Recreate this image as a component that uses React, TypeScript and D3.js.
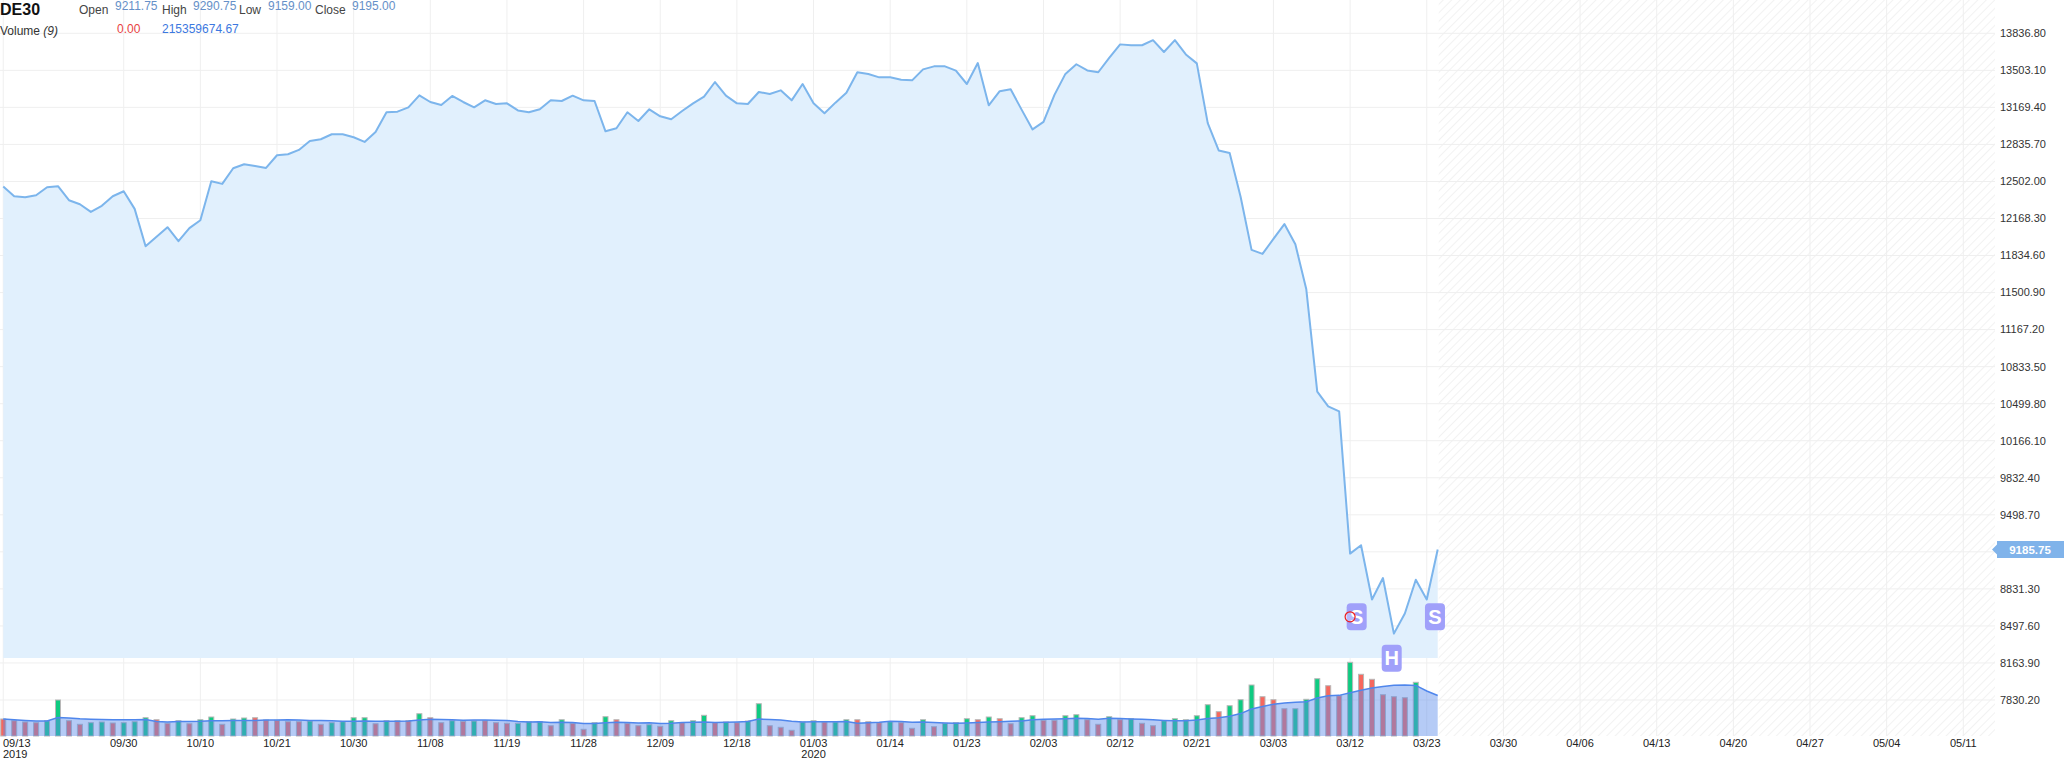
import React, { useEffect } from "react";
import * as d3 from "d3";

// DE30 daily closes, 2019-09-13 .. 2020-03-24
const closes = [
  12456, 12369, 12360, 12378, 12450, 12459, 12333, 12297, 12228, 12282,
  12369, 12414, 12255, 11918, 12003, 12090, 11964, 12081, 12152, 12504,
  12480, 12621, 12657, 12642, 12624, 12738, 12747, 12786, 12867, 12882,
  12927, 12927, 12900, 12858, 12948, 13125, 13131, 13170, 13278, 13218,
  13191, 13272, 13218, 13170, 13233, 13200, 13206, 13142, 13125, 13152,
  13233, 13227, 13275, 13233, 13227, 12954, 12981, 13125, 13047, 13152,
  13089, 13062, 13137, 13206, 13266, 13398, 13275, 13206, 13200, 13308,
  13290, 13323, 13233, 13380, 13206, 13116, 13212, 13302, 13485, 13470,
  13440, 13440, 13419, 13413, 13512, 13539, 13539, 13500, 13380, 13569,
  13188, 13315, 13332, 13149, 12971, 13039, 13282, 13471, 13558, 13502,
  13486, 13615, 13737, 13729, 13729, 13775, 13668, 13775, 13646, 13566,
  13028, 12781, 12759, 12364, 11886, 11849, 11985, 12118, 11936, 11530,
  10609, 10476, 10430, 9149, 9225, 8736, 8929, 8428, 8610, 8914,
  8736, 9185.75,
];

// volume in millions
const volumes = [
  90.4, 81.4, 74.5, 70.8, 81.4, 191.5, 81.4, 62.2, 70.8, 74.5,
  69.2, 70.8, 76.1, 97.4, 86.7, 67.6, 81.4, 65.4, 86.7, 101.1,
  62.2, 90.4, 95.8, 97.4, 85.1, 83.5, 76.1, 76.1, 79.8, 62.2,
  70.8, 76.1, 97.4, 97.4, 65.4, 81.4, 81.4, 81.4, 118.6, 97.4,
  70.8, 81.4, 78.2, 79.8, 81.4, 70.8, 67.6, 67.6, 76.1, 76.1,
  54.8, 86.7, 67.6, 35.6, 70.8, 102.7, 86.7, 67.6, 54.8, 60.1,
  51.6, 81.4, 70.8, 81.4, 110.1, 70.8, 74.5, 70.8, 79.8, 171.8,
  54.8, 46.3, 30.3, 74.5, 81.4, 74.5, 74.5, 86.7, 86.7, 76.1,
  70.8, 76.1, 70.8, 41.0, 86.7, 49.5, 67.6, 70.8, 92.0, 86.7,
  101.1, 92.0, 65.4, 97.4, 108.0, 83.5, 83.5, 108.0, 113.3, 86.7,
  62.2, 102.7, 86.7, 92.0, 67.6, 54.8, 81.4, 92.0, 86.7, 108.0,
  166.5, 129.3, 161.2, 193.1, 271.3, 209.1, 193.1, 145.2, 145.2, 195.2,
  304.8, 267.6, 214.4, 392.1, 328.2, 301.6, 219.7, 209.1, 203.8, 285.7,
  0, 0,
];

// 1 = up candle (green), 0 = down candle (red)
const upDays = [
  0, 0, 0, 0, 1, 1, 0, 0, 1, 1,
  0, 1, 1, 1, 0, 0, 1, 0, 1, 1,
  0, 1, 1, 0, 0, 0, 0, 0, 1, 0,
  1, 1, 1, 1, 0, 1, 0, 0, 1, 0,
  0, 1, 0, 1, 0, 0, 0, 1, 1, 1,
  0, 1, 0, 0, 1, 1, 0, 0, 0, 1,
  0, 1, 0, 1, 1, 0, 1, 0, 1, 1,
  0, 0, 0, 1, 1, 0, 1, 1, 0, 0,
  0, 1, 0, 0, 1, 0, 1, 1, 1, 0,
  1, 0, 0, 1, 1, 0, 0, 1, 1, 0,
  0, 1, 0, 1, 0, 0, 1, 1, 1, 1,
  1, 0, 1, 1, 1, 0, 0, 0, 1, 1,
  1, 0, 0, 1, 0, 0, 0, 0, 0, 1,
  1, 1,
];

const priceTicks = [
  "7830.20", "8163.90", "8497.60", "8831.30", "9165.00", "9498.70", "9832.40",
  "10166.10", "10499.80", "10833.50", "11167.20", "11500.90", "11834.60",
  "12168.30", "12502.00", "12835.70", "13169.40", "13503.10", "13836.80",
];

const dateTickIndex = [0, 11, 18, 25, 32, 39, 46, 53, 60, 67, 74, 81, 88, 95, 102, 109, 116, 123, 130, 137, 144, 151, 158, 165, 172, 179];
const dateTickLabels = [
  "09/13", "09/30", "10/10", "10/21", "10/30", "11/08", "11/19", "11/28", "12/09",
  "12/18", "01/03", "01/14", "01/23", "02/03", "02/12", "02/21", "03/03", "03/12",
  "03/23", "03/30", "04/06", "04/13", "04/20", "04/27", "05/04", "05/11",
];
const yearTickIndex = [0, 74];
const yearTickLabels = ["2019", "2020"];

const flagIndex = [123.6, 126.8, 130.75];
const flagValue = [8580, 8206, 8580];
const flagText = ["S", "H", "S"];
const eventIndex = 123;
const eventValue = 8580;

const lastPrice = 9185.75;
const ohlcLabels = ["Open", "High", "Low", "Close"];
const ohlcValues = ["9211.75", "9290.75", "9159.00", "9195.00"];

const W = 2064;
const H = 762;
const FONT = "'Liberation Sans', Arial, sans-serif";

export default function App() {
  useEffect(() => {
    document.body.style.margin = "0";
  }, []);

  const x = d3.scaleLinear().domain([0, 130]).range([3.25, 1426.75]);
  const yPrice = d3.scaleLinear().domain([7830.2, 13836.8]).range([700, 33.3]);
  const priceBottom = 658;
  const volBottom = 736;
  const yVol = d3.scaleLinear().domain([0, d3.max(volumes) as number]).range([volBottom, 662.3]);
  const plotRight = 1995;
  const last = closes.length - 1;

  const ma = volumes.map((_, i) => d3.mean(volumes.slice(Math.max(0, i - 8), i + 1)) as number);

  const priceArea = d3.area<number>()
    .x((_, i) => x(i))
    .y0(priceBottom)
    .y1(d => yPrice(d))(closes) as string;
  const priceLine = d3.line<number>()
    .x((_, i) => x(i))
    .y(d => yPrice(d))(closes) as string;
  const maArea = d3.area<number>()
    .x((_, i) => x(i))
    .y0(volBottom)
    .y1(d => yVol(d))(ma) as string;
  const maLine = d3.line<number>()
    .x((_, i) => x(i))
    .y(d => yVol(d))(ma) as string;

  const hatchX = x(last) + 1;
  const lp = yPrice(lastPrice);
  // the current-price tag covers the axis label it sits on
  const visibleTicks = priceTicks.filter(t => Math.abs(yPrice(+t) - lp) > 12);

  return (
    <svg width={W} height={H} style={{ display: "block", fontFamily: FONT }}>
      <defs>
        <pattern id="hatch" width="6" height="6" patternUnits="userSpaceOnUse" patternTransform="rotate(45)">
          <line x1="0" y1="0" x2="0" y2="6" stroke="#e9e9e9" strokeWidth="1.2" />
        </pattern>
      </defs>
      <rect x={0} y={0} width={W} height={H} fill="#fff" />
      <rect x={hatchX} y={0} width={plotRight - hatchX} height={volBottom} fill="url(#hatch)" />

      {/* grid */}
      {priceTicks.map(t => (
        <line key={"h" + t} x1={0} x2={plotRight} y1={yPrice(+t)} y2={yPrice(+t)} stroke="#efefef" />
      ))}
      {dateTickIndex.map(i => (
        <line key={"v" + i} x1={x(i)} x2={x(i)} y1={0} y2={volBottom} stroke="#efefef" />
      ))}

      {/* price */}
      <path d={priceArea} fill="#e1f0fd" />
      <path d={priceLine} fill="none" stroke="#7cb5ec" strokeWidth={2} strokeLinejoin="round" />

      {/* volume */}
      {volumes.map((v, i) =>
        v > 0 ? (
          <rect
            key={"b" + i}
            x={x(i) - 2.5}
            y={yVol(v)}
            width={5}
            height={volBottom - yVol(v)}
            fill={upDays[i] ? "#0ecb81" : "#f6685e"}
            stroke="#b8b8b8"
            strokeWidth={1}
          />
        ) : null
      )}
      <path d={maArea} fill="rgba(90,140,235,0.45)" />
      <path d={maLine} fill="none" stroke="#4f86ec" strokeWidth={1.5} />

      {/* flags */}
      {flagIndex.map((fi, k) => (
        <g key={"f" + k} transform={`translate(${x(fi)},${yPrice(flagValue[k])})`}>
          <rect x={-10} y={-13.5} width={20} height={27} rx={4} fill="#a0a0fa" />
          <text x={0} y={7} textAnchor="middle" fill="#fff" fontWeight="bold" fontSize={20}>
            {flagText[k]}
          </text>
        </g>
      ))}
      <circle cx={x(eventIndex)} cy={yPrice(eventValue)} r={5} fill="rgba(255,255,255,0.25)" stroke="#ee1c1c" strokeWidth={1.2} />

      {/* price axis */}
      {visibleTicks.map(t => (
        <text key={"pl" + t} x={2000} y={yPrice(+t)} dy="0.35em" fontSize={11} fill="#333">
          {t}
        </text>
      ))}
      <path
        d={`M1992,${lp} L1997,${lp - 5} L1997,${lp - 8.5} L2064,${lp - 8.5} L2064,${lp + 8.5} L1997,${lp + 8.5} L1997,${lp + 5} Z`}
        fill="#80b3ea"
      />
      <text x={2030} y={lp} dy="0.35em" textAnchor="middle" fontSize={11.5} fontWeight="bold" fill="#fff">
        {lastPrice.toFixed(2)}
      </text>

      {/* date axis */}
      {dateTickIndex.map((i, k) => (
        <text
          key={"dl" + i}
          x={k === 0 ? 3 : x(i)}
          y={747}
          textAnchor={k === 0 ? "start" : "middle"}
          fontSize={11}
          fill="#222"
        >
          {dateTickLabels[k]}
        </text>
      ))}
      {yearTickIndex.map((i, k) => (
        <text key={"yl" + i} x={k === 0 ? 3 : x(i)} y={758} textAnchor={k === 0 ? "start" : "middle"} fontSize={11} fill="#222">
          {yearTickLabels[k]}
        </text>
      ))}

      {/* header */}
      <text x={0} y={15} fontSize={16} fontWeight="bold" fill="#111">DE30</text>
      {ohlcLabels.map((l, k) => {
        const lx = [79, 162, 239, 315][k];
        const vx = [115, 193, 268, 352][k];
        return (
          <g key={"o" + l}>
            <text x={lx} y={13.5} fontSize={12} fill="#444">{l}</text>
            <text x={vx} y={9.5} fontSize={12} fill="#6690c8">{ohlcValues[k]}</text>
          </g>
        );
      })}
      <text x={0} y={35} fontSize={12} fill="#333">
        Volume <tspan fontStyle="italic">(9)</tspan>
      </text>
      <text x={117} y={32.5} fontSize={12} fill="#e8423f">{volumes[last].toFixed(2)}</text>
      <text x={162} y={32.5} fontSize={12} fill="#3c78e0">215359674.67</text>
    </svg>
  );
}
